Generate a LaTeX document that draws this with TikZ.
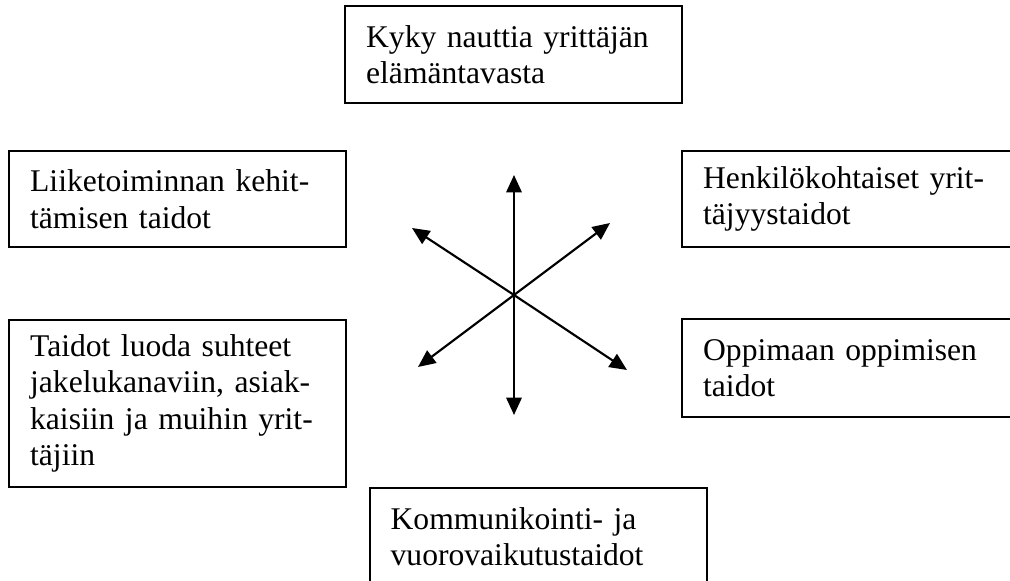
\documentclass[tikz,border=0pt]{standalone}
\usepackage{fontspec}
\setmainfont{Liberation Serif}
\usetikzlibrary{arrows.meta}
\begin{document}
\begin{tikzpicture}[x=0.75pt,y=-0.75pt,
  skillbox/.style={draw, line width=1.5pt, align=left, inner sep=0pt,
    font=\fontsize{23.7}{27.3}\selectfont, text width=221pt,
    minimum width=252.75pt},
  twoway/.style={line width=1.6pt,
    {Triangle[length=13pt,width=11.5pt]}-{Triangle[length=13pt,width=11.5pt]}}]
\useasboundingbox (0,0) rectangle (1010,581);
\clip (0,0) rectangle (1010,581);

% skill areas around the centre
\node[skillbox, minimum height=72.75pt] (life) at (513.5,54.5)
  {Kyky nauttia yrittäjän\\elämäntavasta};
\node[skillbox, minimum height=72pt] (business) at (177.5,199)
  {Liiketoiminnan kehit-\\tämisen taidot};
\node[skillbox, minimum height=125.25pt] (relations) at (177.5,403.5)
  {Taidot luoda suhteet\\jakelukanaviin, asiak-\\kaisiin ja muihin yrit-\\täjiin};
\node[skillbox, minimum height=72pt] (personal) at (850.5,199)
  {Henkilökohtaiset yrit-\\täjyystaidot};
\node[skillbox, minimum height=73.5pt] (learning) at (850.5,368)
  {Oppimaan oppimisen\\taidot};
\node[skillbox, minimum height=72.75pt] (communication) at (538,536.5)
  {Kommunikointi- ja\\vuorovaikutustaidot};

% six-way arrow star
\coordinate (hub) at (514,295);
\coordinate (tipN) at (514,175);
\coordinate (tipS) at (514,415);
\coordinate (tipNW) at (412,228);
\coordinate (tipSE) at (627,370);
\coordinate (tipNE) at (610,223);
\coordinate (tipSW) at (418,367);
\draw[twoway] (tipN) -- (hub) -- (tipS);
\draw[twoway] (tipNW) -- (hub) -- (tipSE);
\draw[twoway] (tipNE) -- (hub) -- (tipSW);
\end{tikzpicture}
\end{document}
